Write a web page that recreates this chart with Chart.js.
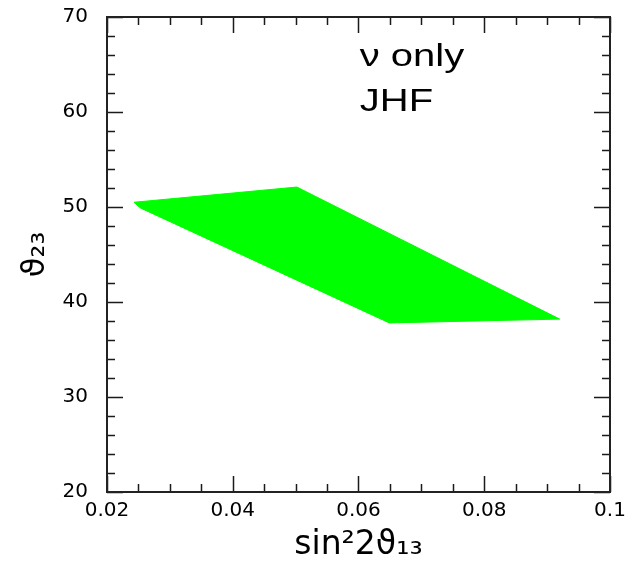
<!DOCTYPE html>
<html><head><meta charset="utf-8">
<script src="https://cdn.jsdelivr.net/npm/chart.js@4.4.1/dist/chart.umd.min.js"></script>
<style>html,body{margin:0;padding:0;background:#fff}#wrap{width:627px;height:570px}</style>
</head><body><div id="wrap"><canvas id="c" width="627" height="570"></canvas></div>
<script>
// Region boundary (sin^2 2theta13, theta23) — closed polygon
const polyX = [0.0243, 0.0502, 0.0920, 0.0649, 0.0253, 0.0243];
const polyY = [50.5, 52.1, 38.2, 37.8, 49.9, 50.5];
const xTickLabels = ['0.02', '0.04', '0.06', '0.08', '0.1'];
const yTickLabels = ['20', '30', '40', '50', '60', '70'];
const annotationLines = ['ν only', 'JHF'];
const xTitle = 'sin²2ϑ₁₃';
const yTitle = 'ϑ₂₃';

const xMinorStep = 0.005, yMinorStep = 2;

const framePlugin = {
  id: 'frameTicks',
  afterDraw(chart) {
    const {ctx, chartArea: {left, right, top, bottom}, scales: {x, y}} = chart;
    ctx.save();
    ctx.strokeStyle = '#1a1a1a';
    ctx.lineWidth = 1.5;
    const nx = Math.round((x.max - x.min) / xMinorStep);
    for (let i = 0; i <= nx; i++) {
      const px = Math.round(x.getPixelForValue(x.min + i * xMinorStep)) + 0.5;
      const len = (i % 4 === 0) ? 16 : 8;
      ctx.beginPath();
      ctx.moveTo(px, bottom); ctx.lineTo(px, bottom - len);
      ctx.moveTo(px, top); ctx.lineTo(px, top + len);
      ctx.stroke();
    }
    const ny = Math.round((y.max - y.min) / yMinorStep);
    for (let i = 0; i <= ny; i++) {
      const py = Math.round(y.getPixelForValue(y.min + i * yMinorStep)) + 0.5;
      const len = (i % 5 === 0) ? 16 : 8;
      ctx.beginPath();
      ctx.moveTo(left, py); ctx.lineTo(left + len, py);
      ctx.moveTo(right, py); ctx.lineTo(right - len, py);
      ctx.stroke();
    }
    ctx.lineWidth = 2;
    ctx.strokeStyle = '#222';
    ctx.strokeRect(left, top, right - left, bottom - top);
    // annotation text
    ctx.fillStyle = '#000';
    ctx.font = '32px "Liberation Sans", Arial, sans-serif';
    ctx.textBaseline = 'alphabetic';
    ctx.textAlign = 'left';
    const ax = x.getPixelForValue(0.0602);
    const ay = [y.getPixelForValue(64.8), y.getPixelForValue(60.1)];
    annotationLines.forEach((t, i) => {
      ctx.save();
      ctx.translate(ax, ay[i]);
      ctx.scale(1.25, 1);
      ctx.fillText(t, 0, 0);
      ctx.restore();
    });
    ctx.restore();
  }
};

new Chart(document.getElementById('c'), {
  type: 'scatter',
  data: {
    datasets: [{
      data: polyX.map((v, i) => ({x: v, y: polyY[i]})),
      showLine: true,
      fill: 'shape',
      backgroundColor: '#00ff00',
      borderColor: '#00ff00',
      borderWidth: 1,
      pointRadius: 0,
      tension: 0
    }]
  },
  options: {
    responsive: false,
    animation: false,
    devicePixelRatio: 1,
    layout: {padding: {top: 17, right: 17, left: 0, bottom: 0}},
    plugins: {legend: {display: false}, tooltip: {enabled: false}},
    scales: {
      x: {
        type: 'linear', min: 0.02, max: 0.1, position: 'bottom',
        afterFit: s => { s.height = 78; s.paddingLeft = 0; s.paddingRight = 0; },
        afterBuildTicks: s => { s.ticks = xTickLabels.map(t => ({value: parseFloat(t)})); },
        ticks: {callback: (v, i) => xTickLabels[i], font: {family: 'DejaVu Sans', size: 20}, color: '#000', padding: 7, maxRotation: 0, autoSkip: false},
        grid: {display: false, drawTicks: false}, border: {display: false},
        title: {display: true, text: xTitle, font: {family: 'DejaVu Sans', size: 33}, color: '#000', padding: {top: 0, bottom: 5}}
      },
      y: {
        type: 'linear', min: 20, max: 70, position: 'left',
        afterFit: s => { s.width = 107; s.paddingTop = 0; s.paddingBottom = 0; },
        afterBuildTicks: s => { s.ticks = yTickLabels.map(t => ({value: parseFloat(t)})); },
        ticks: {callback: (v, i) => yTickLabels[i], font: {family: 'DejaVu Sans', size: 20}, color: '#000', padding: 19, autoSkip: false},
        grid: {display: false, drawTicks: false}, border: {display: false},
        title: {display: true, text: yTitle, font: {family: 'DejaVu Sans', size: 32}, color: '#000', padding: {top: 16, bottom: 0}}
      }
    }
  },
  plugins: [framePlugin]
});
</script>
</body></html>
